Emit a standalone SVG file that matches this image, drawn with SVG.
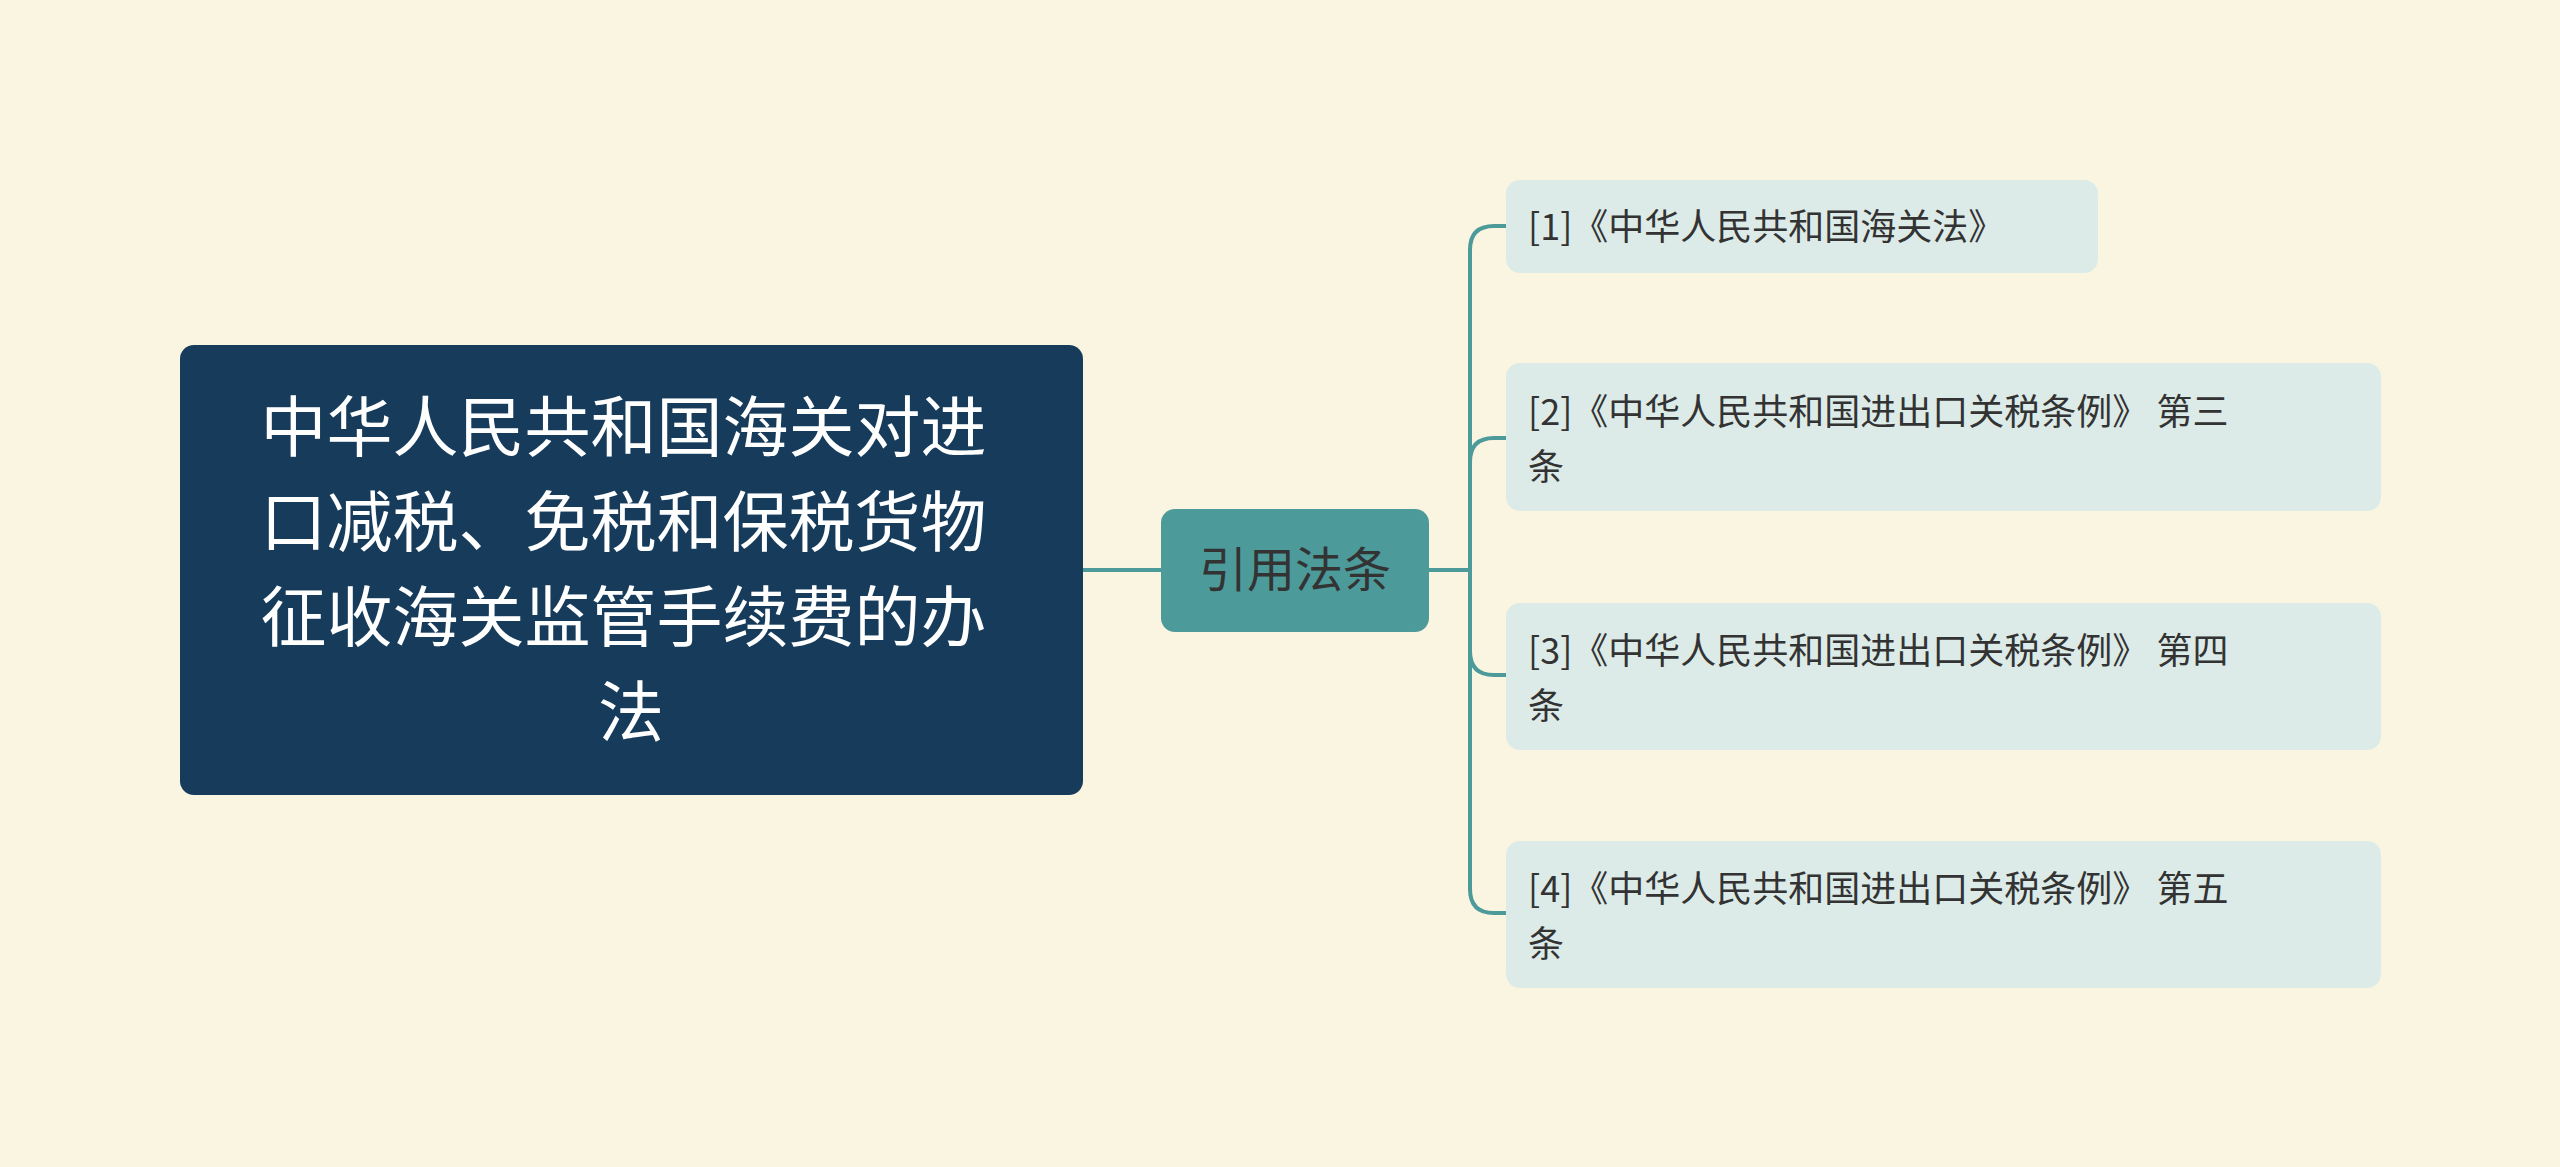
<svg xmlns="http://www.w3.org/2000/svg" width="2560" height="1167" viewBox="0 0 2560 1167">
<style>
.cjk{font-family:"Noto Sans CJK SC","Noto Sans",sans-serif}
.leaf rect{fill:#DCEBE8}
.leaf text{font-size:36px;fill:#333333}
.ln{fill:none;stroke:#4C9A9A;stroke-width:4}
</style>
<rect width="2560" height="1167" fill="#FAF5E0"/>
<g id="connectors">
<path class="ln" d="M1083,570 H1161"/>
<path class="ln" d="M1429,570 H1470"/>
<path class="ln" d="M1470,570 V250 Q1470,226 1494,226 H1506"/>
<path class="ln" d="M1470,570 V462 Q1470,438 1494,438 H1506"/>
<path class="ln" d="M1470,570 V651 Q1470,675 1494,675 H1506"/>
<path class="ln" d="M1470,570 V889 Q1470,913 1494,913 H1506"/>
</g>
<g id="root">
<rect x="180" y="345" width="903" height="450" rx="14" fill="#173C5B"/>
<text class="cjk" font-size="66" fill="#FFFFFF" text-anchor="middle">
<tspan x="631" y="451">中华人民共和国海关对进</tspan>
<tspan x="631" y="546">口减税、免税和保税货物</tspan>
<tspan x="631" y="641">征收海关监管手续费的办</tspan>
<tspan x="631" y="736">法</tspan>
</text>
</g>
<g id="mid">
<rect x="1161" y="509" width="268" height="123" rx="14" fill="#4C9A9A"/>
<text class="cjk" x="1295" y="587" font-size="48" fill="#333333" text-anchor="middle">引用法条</text>
</g>
<g id="n1" class="leaf">
<rect x="1506" y="180" width="592" height="93" rx="14"/>
<text class="cjk" x="1528" y="240">[1]《中华人民共和国海关法》</text>
</g>
<g id="n2" class="leaf">
<rect x="1506" y="363" width="875" height="148" rx="14"/>
<text class="cjk"><tspan x="1528" y="425">[2]《中华人民共和国进出口关税条例》 第三</tspan><tspan x="1528" y="480">条</tspan></text>
</g>
<g id="n3" class="leaf">
<rect x="1506" y="603" width="875" height="147" rx="14"/>
<text class="cjk"><tspan x="1528" y="664">[3]《中华人民共和国进出口关税条例》 第四</tspan><tspan x="1528" y="719">条</tspan></text>
</g>
<g id="n4" class="leaf">
<rect x="1506" y="841" width="875" height="147" rx="14"/>
<text class="cjk"><tspan x="1528" y="902">[4]《中华人民共和国进出口关税条例》 第五</tspan><tspan x="1528" y="957">条</tspan></text>
</g>
</svg>
